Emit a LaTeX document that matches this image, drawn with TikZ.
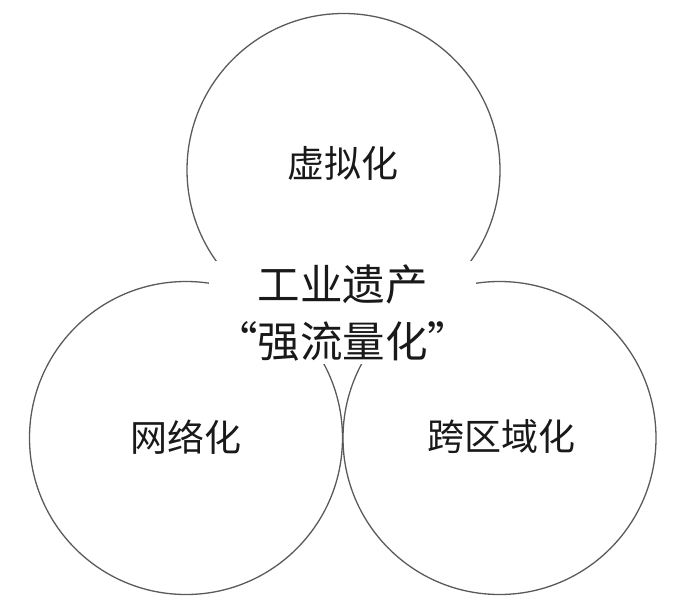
\documentclass[tikz,border=0pt]{standalone}
\usepackage{fontspec}
\newfontfamily\cjk{Noto Sans CJK SC}
\definecolor{linegray}{RGB}{90,90,90}
\definecolor{textblack}{RGB}{25,25,25}
\tikzset{
  ring/.style={circle, draw=linegray, line width=1.3pt, minimum size=313pt, inner sep=0pt},
  lbl/.style={font=\cjk\fontsize{37}{44}\selectfont, text=textblack, inner sep=0pt},
  core/.style={fill=white, minimum width=267pt, minimum height=103pt, inner sep=0pt,
    align=center, font=\cjk\fontsize{42.5}{57}\selectfont, text=textblack}
}
\begin{document}
\begin{tikzpicture}[x=1pt,y=-1pt]
\useasboundingbox (0,0) rectangle (682,610);
\node[ring] (virt) at (343.5,170) {};
\node[ring] (net) at (186,438) {};
\node[ring] (reg) at (499.5,438) {};
\node[core] (center) at (342.5,312.5) {工业遗产\\“强流量化”};
\node[lbl] (virtl) at (343,163) {虚拟化};
\node[lbl] (netl) at (186,437) {网络化};
\node[lbl] (regl) at (501,437) {跨区域化};
\end{tikzpicture}
\end{document}
